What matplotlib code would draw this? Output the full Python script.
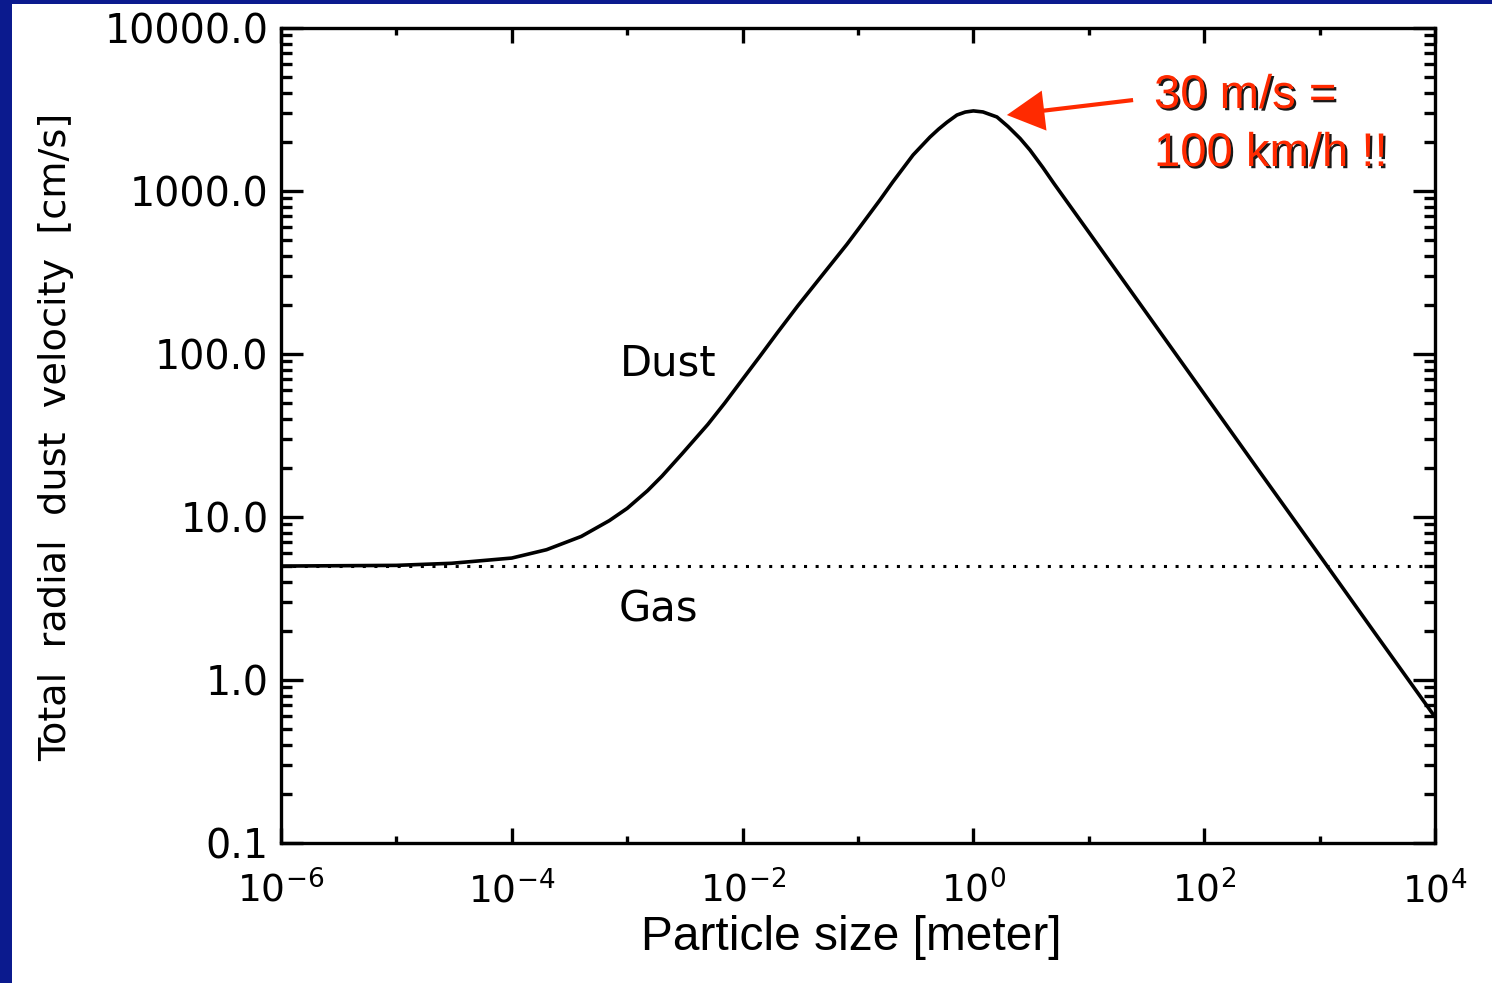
import matplotlib
matplotlib.use("Agg")
import matplotlib.pyplot as plt
import matplotlib.patheffects as pe
from matplotlib.patches import Rectangle
from matplotlib.ticker import FixedLocator, NullFormatter

# ---------------- data ----------------
dust_size_m = [1e-6, 1e-5, 3e-5, 1e-4, 2e-4, 4e-4, 7e-4, 1e-3, 1.5e-3, 2e-3,
               3e-3, 5e-3, 7e-3, 1e-2, 1.4e-2, 2e-2, 3e-2, 5e-2, 8e-2, 0.1,
               0.155, 0.2, 0.3, 0.42, 0.5, 0.59, 0.72, 0.85, 1.0, 1.21,
               1.6, 2.0, 2.54, 3.09, 4.0, 5.0, 10.0, 30.0, 100.0, 300.0,
               1000.0, 3000.0, 1.0e4]
dust_vel_cms = [5.0, 5.05, 5.2, 5.6, 6.3, 7.6, 9.5, 11.3, 14.5, 17.8,
                24.5, 37.0, 50.0, 70.0, 96.0, 135.0, 197.0, 310.0, 470.0, 580.0,
                881.0, 1135.0, 1663.0, 2140.0, 2398.0, 2640.0, 2925.0, 3050.0, 3100.0, 3055.0,
                2845.0, 2483.0, 2100.0, 1785.0, 1393.0, 1109.0, 559.0, 188.0, 56.9, 19.1,
                5.81, 1.95, 0.593]
gas_size_m = [1e-6, 1e4]
gas_vel_cms = [5.0, 5.0]

xtick_vals = [1e-6, 1e-4, 1e-2, 1e0, 1e2, 1e4]
xtick_labels = [r"$10^{-6}$", r"$10^{-4}$", r"$10^{-2}$", r"$10^{0}$", r"$10^{2}$", r"$10^{4}$"]
xminor_vals = [1e-5, 1e-3, 1e-1, 1e1, 1e3]
ytick_vals = [0.1, 1.0, 10.0, 100.0, 1000.0, 10000.0]
ytick_labels = ["0.1", "1.0", "10.0", "100.0", "1000.0", "10000.0"]

RED = "#FF2A00"
BLUE = "#0B1A8E"

W, H = 1492, 983
fig = plt.figure(figsize=(W / 100, H / 100), dpi=100)
fig.patch.set_facecolor("white")

# blue slide border (left and top)
fig.patches.append(Rectangle((0, 0), 12 / W, 1, transform=fig.transFigure,
                             facecolor=BLUE, edgecolor="none", zorder=0))
fig.patches.append(Rectangle((0, 1 - 4 / H), 1, 4 / H, transform=fig.transFigure,
                             facecolor=BLUE, edgecolor="none", zorder=0))

ax = fig.add_axes([281 / W, 1 - 843 / H, (1435 - 281) / W, (843 - 28) / H])
ax.set_xscale("log")
ax.set_yscale("log")
ax.set_xlim(1e-6, 1e4)
ax.set_ylim(0.1, 10000)

ax.plot(dust_size_m, dust_vel_cms, color="black", lw=2.6, solid_joinstyle="round",
        solid_capstyle="butt", zorder=3)
ax.plot(gas_size_m, gas_vel_cms, color="black", lw=2.2, linestyle=(0, (1, 2.8)),
        dash_capstyle="butt", zorder=3)

for s in ax.spines.values():
    s.set_linewidth(2.4)

# x ticks
ax.xaxis.set_major_locator(FixedLocator(xtick_vals))
ax.set_xticklabels(xtick_labels)
ax.xaxis.set_minor_locator(FixedLocator(xminor_vals))
ax.xaxis.set_minor_formatter(NullFormatter())
ax.tick_params(axis="x", which="major", direction="in", length=11, width=2.4,
               top=True, bottom=True, labelsize=27, pad=20)
ax.tick_params(axis="x", which="minor", direction="in", length=5, width=2.4,
               top=True, bottom=True)

# y ticks
ax.yaxis.set_major_locator(FixedLocator(ytick_vals))
ax.set_yticklabels(ytick_labels)
yminor = [m * d for d in [0.1, 1, 10, 100, 1000] for m in range(2, 10)]
ax.yaxis.set_minor_locator(FixedLocator(yminor))
ax.yaxis.set_minor_formatter(NullFormatter())
ax.tick_params(axis="y", which="major", direction="in", length=16, width=2.4,
               left=True, right=True, labelsize=28.5, pad=9)
ax.tick_params(axis="y", which="minor", direction="in", length=8, width=2.4,
               left=True, right=True)

# axis labels
fig.text(851 / W, 1 - 938 / H, "Particle size [meter]", ha="center", va="center",
         fontsize=34.5, family="Liberation Sans")
fig.text(56 / W, 1 - 437 / H, "Total  radial  dust  velocity  [cm/s]", ha="center",
         va="center", rotation=90, fontsize=27.5)

# curve labels
fig.text(668 / W, 1 - 364 / H, "Dust", ha="center", va="center", fontsize=30)
fig.text(658 / W, 1 - 610 / H, "Gas", ha="center", va="center", fontsize=30)

# red annotation
shadow = [pe.withSimplePatchShadow(offset=(1.6, -1.6), shadow_rgbFace="black", alpha=0.9)]
fig.text(1154 / W, 1 - 108 / H, "30 m/s =", ha="left", va="baseline",
         fontsize=34, family="Liberation Sans", color=RED, path_effects=shadow)
fig.text(1154 / W, 1 - 166 / H, "100 km/h !!", ha="left", va="baseline",
         fontsize=34, family="Liberation Sans", color=RED, path_effects=shadow)
ax.annotate("", xy=(1.95, 2925), xytext=(24.2, 3614),
            arrowprops=dict(width=3, headwidth=29, headlength=27, shrink=0.0,
                            facecolor=RED, edgecolor=RED, lw=0), zorder=5)

fig.savefig("out.png", dpi=100)
